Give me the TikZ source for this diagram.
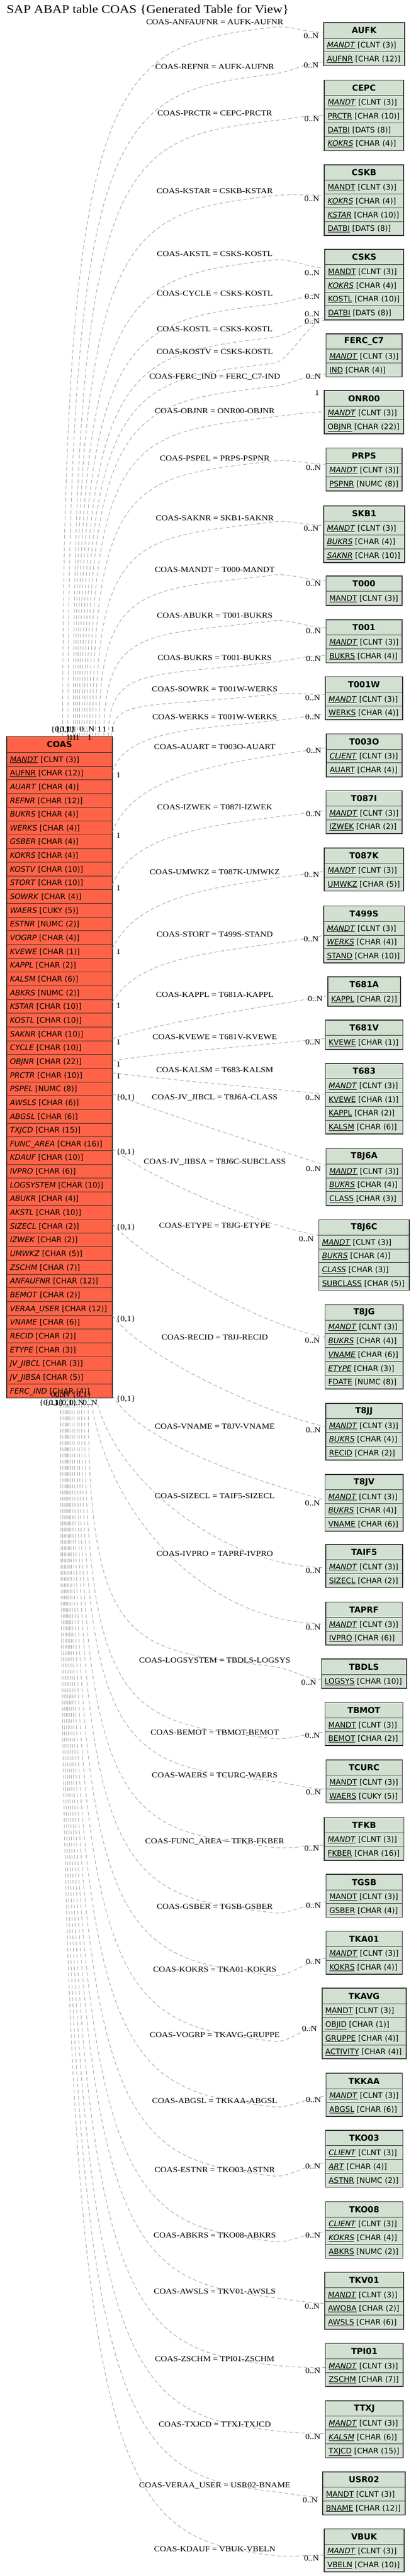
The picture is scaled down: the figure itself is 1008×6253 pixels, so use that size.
\documentclass[tikz,border=0pt]{standalone}
\usepackage{fontspec}
\setmainfont{DejaVu Sans}
\newfontfamily\lfont[FakeStretch=1.13]{Liberation Serif}
\usetikzlibrary{calc}
\definecolor{coasfill}{HTML}{FF6347}
\definecolor{tfill}{HTML}{D1E0D1}
\definecolor{relc}{HTML}{A0A0A0}
\definecolor{bord}{HTML}{303030}
\newcommand\hh{37}
\newcommand\rh{33.4}
\newcommand\curfill{tfill}
\newcommand\ki[1]{\underline{\textit{#1}}}
\newcommand\ku[1]{\underline{#1}}
\tikzset{
 hdrbox/.style={draw=bord, line width=1.1pt, fill=\curfill, minimum height=\hh pt, inner sep=0pt, font=\fontsize{20}{24}\selectfont\bfseries},
 rowbox/.style={draw=bord, line width=1.1pt, fill=\curfill, minimum height=\rh pt, inner sep=0pt},
 rowtxt/.style={inner sep=0pt, font=\fontsize{18.3}{22}\selectfont},
 rel/.style={draw=relc, line width=1.2pt, dash pattern=on 9pt off 6pt},
 lbl/.style={inner sep=0pt, font=\lfont\fontsize{18.6}{20}\selectfont},
}
\newcommand\mktable[6]{%
  \pgfmathsetmacro\tw{#4-#3}%
  \node[hdrbox, minimum width=\tw pt, anchor=north west] (#1) at (#3,-#5) {#2};%
  \foreach \r [count=\i] in {#6} {%
    \pgfmathsetmacro\ry{-#5-\hh-(\i-1)*\rh}%
    \node[rowbox, minimum width=\tw pt, anchor=north west] (#1-\i) at (#3,\ry) {};%
    \node[rowtxt, anchor=base west] at ($(#1-\i.west)+(8,-6.7)$) {\r};%
    \xdef\lastrow{\i}%
  }%
  \draw[draw=bord, line width=1.5pt] (#1.north west) rectangle (#1-\lastrow.south east);%
}
% top connectors: xs, P.y, target, E.y
\newcommand\relT[4]{%
  \coordinate (s) at (coas.north -| #1,0);%
  \coordinate (e) at (#3.west |- 0,-#4);%
  \pgfmathsetmacro\cay{-(1787.5-0.95*(1787.5-#2))}%
  \pgfmathsetmacro\bb{0.75*(663-#1)}%
  \pgfmathsetmacro\cbx{663-\bb}%
  \pgfmathsetmacro\cby{-(#2+0.12*\bb)}%
  \pgfmathsetmacro\ccy{-(#2-4.8)}%
  \draw[rel] (s) .. controls (#1,\cay) and (\cbx,\cby) .. (663,-#2) .. controls (703,\ccy) and ($(e)+(-40,0)$) .. (e);%
}
% bottom connectors: xs, P.y, target, E.y
\newcommand\relB[4]{%
  \coordinate (s) at (coas-47.south -| #1,0);%
  \coordinate (e) at (#3.west |- 0,-#4);%
  \pgfmathsetmacro\cay{-(3392+0.95*(#2-3392))}%
  \pgfmathsetmacro\bb{0.75*(663-#1)}%
  \pgfmathsetmacro\cbx{663-\bb}%
  \pgfmathsetmacro\cby{-(#2-0.12*\bb)}%
  \pgfmathsetmacro\ccy{-(#2+4.8)}%
  \draw[rel] (s) .. controls (#1,\cay) and (\cbx,\cby) .. (663,-#2) .. controls (703,\ccy) and ($(e)+(-40,0)$) .. (e);%
}
% right side connectors: ys, out angle, out dist, in angle, in dist, target, E.y
\newcommand\relR[7]{%
  \coordinate (s) at (coas.east |- 0,-#1);%
  \coordinate (e) at (#6.west |- 0,-#7);%
  \draw[rel] (s) .. controls ($(s)+(#2:#3)$) and ($(e)+(#4:#5)$) .. (e);%
}
\newcommand\elab[2]{\node[lbl, anchor=base] at (521,-#1-6) {#2};}
\newcommand\cardE[3]{\node[lbl, anchor=base east] at ($(#1.west |- 0,-#2)+(-12,-6)$) {#3};}
\newcommand\cardS[2]{\node[lbl, anchor=base west] at (282,-#1-14) {#2};}
\newcommand\clab[3]{\node[lbl, anchor=base west] at (#1,-#2-6) {#3};}
\begin{document}
\begin{tikzpicture}[x=1pt,y=1pt]
\useasboundingbox (0,0) rectangle (1008,-6253);
\fill[white] (0,0) rectangle (1008,-6253);
\node[anchor=base west, inner sep=0pt, font=\lfont\fontsize{28.3}{30}\selectfont] (title) at (16,-32.3) {SAP ABAP table COAS \{Generated Table for View\}};

% ---------- COAS ----------
\renewcommand\hh{38.3}\renewcommand\rh{33.33}\renewcommand\curfill{coasfill}
\mktable{coas}{COAS}{16}{271.5}{1787.5}{\ki{MANDT} [CLNT (3)],\ku{AUFNR} [CHAR (12)],\textit{AUART} [CHAR (4)],\textit{REFNR} [CHAR (12)],\textit{BUKRS} [CHAR (4)],\textit{WERKS} [CHAR (4)],\textit{GSBER} [CHAR (4)],\textit{KOKRS} [CHAR (4)],\textit{KOSTV} [CHAR (10)],\textit{STORT} [CHAR (10)],\textit{SOWRK} [CHAR (4)],\textit{WAERS} [CUKY (5)],\textit{ESTNR} [NUMC (2)],\textit{VOGRP} [CHAR (4)],\textit{KVEWE} [CHAR (1)],\textit{KAPPL} [CHAR (2)],\textit{KALSM} [CHAR (6)],\textit{ABKRS} [NUMC (2)],\textit{KSTAR} [CHAR (10)],\textit{KOSTL} [CHAR (10)],\textit{SAKNR} [CHAR (10)],\textit{CYCLE} [CHAR (10)],\textit{OBJNR} [CHAR (22)],\textit{PRCTR} [CHAR (10)],\textit{PSPEL} [NUMC (8)],\textit{AWSLS} [CHAR (6)],\textit{ABGSL} [CHAR (6)],\textit{TXJCD} [CHAR (15)],\textit{FUNC\_AREA} [CHAR (16)],\textit{KDAUF} [CHAR (10)],\textit{IVPRO} [CHAR (6)],\textit{LOGSYSTEM} [CHAR (10)],\textit{ABUKR} [CHAR (4)],\textit{AKSTL} [CHAR (10)],\textit{SIZECL} [CHAR (2)],\textit{IZWEK} [CHAR (2)],\textit{UMWKZ} [CHAR (5)],\textit{ZSCHM} [CHAR (7)],\textit{ANFAUFNR} [CHAR (12)],\textit{BEMOT} [CHAR (2)],\textit{VERAA\_USER} [CHAR (12)],\textit{VNAME} [CHAR (6)],\textit{RECID} [CHAR (2)],\textit{ETYPE} [CHAR (3)],\textit{JV\_JIBCL} [CHAR (3)],\textit{JV\_JIBSA} [CHAR (5)],\textit{FERC\_IND} [CHAR (4)]}
\renewcommand\hh{37}\renewcommand\rh{33.4}\renewcommand\curfill{tfill}

% ---------- right tables ----------
\mktable{aufk}{AUFK}{785}{981}{55}{\ki{MANDT} [CLNT (3)],\ku{AUFNR} [CHAR (12)]}
\mktable{cepc}{CEPC}{786.7}{978.3}{194}{\ki{MANDT} [CLNT (3)],\ku{PRCTR} [CHAR (10)],\ku{DATBI} [DATS (8)],\ki{KOKRS} [CHAR (4)]}
\mktable{cskb}{CSKB}{786.7}{978.3}{400}{\ku{MANDT} [CLNT (3)],\ki{KOKRS} [CHAR (4)],\ki{KSTAR} [CHAR (10)],\ku{DATBI} [DATS (8)]}
\mktable{csks}{CSKS}{787.7}{978.3}{605}{\ku{MANDT} [CLNT (3)],\ki{KOKRS} [CHAR (4)],\ku{KOSTL} [CHAR (10)],\ku{DATBI} [DATS (8)]}
\mktable{ferc}{FERC\_C7}{790.7}{974.3}{810}{\ki{MANDT} [CLNT (3)],\ku{IND} [CHAR (4)]}
\mktable{onr}{ONR00}{786.7}{978.3}{948}{\ki{MANDT} [CLNT (3)],\ku{OBJNR} [CHAR (22)]}
\mktable{prps}{PRPS}{790.7}{974.3}{1087}{\ki{MANDT} [CLNT (3)],\ku{PSPNR} [NUMC (8)]}
\mktable{skb}{SKB1}{785}{981}{1227.5}{\ki{MANDT} [CLNT (3)],\ki{BUKRS} [CHAR (4)],\ki{SAKNR} [CHAR (10)]}
\mktable{t000}{T000}{790.7}{974.3}{1398}{\ku{MANDT} [CLNT (3)]}
\mktable{t001}{T001}{790.7}{974.3}{1504}{\ki{MANDT} [CLNT (3)],\ku{BUKRS} [CHAR (4)]}
\mktable{t001w}{T001W}{789}{976}{1642.6}{\ki{MANDT} [CLNT (3)],\ku{WERKS} [CHAR (4)]}
\mktable{t003o}{T003O}{791.7}{974.3}{1781}{\ki{CLIENT} [CLNT (3)],\ku{AUART} [CHAR (4)]}
\mktable{t087i}{T087I}{790.7}{974.3}{1919}{\ki{MANDT} [CLNT (3)],\ku{IZWEK} [CHAR (2)]}
\mktable{t087k}{T087K}{786.7}{978.3}{2058}{\ki{MANDT} [CLNT (3)],\ku{UMWKZ} [CHAR (5)]}
\mktable{t499s}{T499S}{785}{980}{2199}{\ki{MANDT} [CLNT (3)],\ki{WERKS} [CHAR (4)],\ku{STAND} [CHAR (10)]}
\mktable{t681a}{T681A}{795}{971}{2371}{\ku{KAPPL} [CHAR (2)]}
\mktable{t681v}{T681V}{789.3}{976.7}{2476}{\ku{KVEWE} [CHAR (1)]}
\mktable{t683}{T683}{789.3}{976.7}{2581}{\ki{MANDT} [CLNT (3)],\ku{KVEWE} [CHAR (1)],\ku{KAPPL} [CHAR (2)],\ku{KALSM} [CHAR (6)]}
\mktable{t8j6a}{T8J6A}{790.7}{975}{2788}{\ki{MANDT} [CLNT (3)],\ki{BUKRS} [CHAR (4)],\ku{CLASS} [CHAR (3)]}
\mktable{t8j6c}{T8J6C}{773.3}{992.3}{2960.5}{\ki{MANDT} [CLNT (3)],\ki{BUKRS} [CHAR (4)],\ki{CLASS} [CHAR (3)],\ku{SUBCLASS} [CHAR (5)]}
\mktable{t8jg}{T8JG}{788.3}{977.3}{3166.7}{\ki{MANDT} [CLNT (3)],\ki{BUKRS} [CHAR (4)],\ki{VNAME} [CHAR (6)],\ki{ETYPE} [CHAR (3)],\ku{FDATE} [NUMC (8)]}
\mktable{t8jj}{T8JJ}{790}{975}{3406}{\ki{MANDT} [CLNT (3)],\ki{BUKRS} [CHAR (4)],\ku{RECID} [CHAR (2)]}
\mktable{t8jv}{T8JV}{788.3}{977.3}{3578.6}{\ki{MANDT} [CLNT (3)],\ki{BUKRS} [CHAR (4)],\ku{VNAME} [CHAR (6)]}
\mktable{taif5}{TAIF5}{790}{976}{3749}{\ki{MANDT} [CLNT (3)],\ku{SIZECL} [CHAR (2)]}
\mktable{taprf}{TAPRF}{790}{975}{3888.6}{\ki{MANDT} [CLNT (3)],\ku{IVPRO} [CHAR (6)]}
\mktable{tbdls}{TBDLS}{779.3}{985.7}{4027}{\ku{LOGSYS} [CHAR (10)]}
\mktable{tbmot}{TBMOT}{788.3}{976.7}{4132.4}{\ku{MANDT} [CLNT (3)],\ku{BEMOT} [CHAR (2)]}
\mktable{tcurc}{TCURC}{790.7}{975}{4271.7}{\ku{MANDT} [CLNT (3)],\ku{WAERS} [CUKY (5)]}
\mktable{tfkb}{TFKB}{786.7}{979}{4411}{\ki{MANDT} [CLNT (3)],\ku{FKBER} [CHAR (16)]}
\mktable{tgsb}{TGSB}{790.7}{975}{4549.6}{\ku{MANDT} [CLNT (3)],\ku{GSBER} [CHAR (4)]}
\mktable{tka01}{TKA01}{790.7}{975}{4687.5}{\ki{MANDT} [CLNT (3)],\ku{KOKRS} [CHAR (4)]}
\mktable{tkavg}{TKAVG}{781}{984.3}{4826}{\ku{MANDT} [CLNT (3)],\ku{OBJID} [CHAR (1)],\ku{GRUPPE} [CHAR (4)],\ku{ACTIVITY} [CHAR (4)]}
\mktable{tkkaa}{TKKAA}{790.7}{975}{5032.4}{\ki{MANDT} [CLNT (3)],\ku{ABGSL} [CHAR (6)]}
\mktable{tko03}{TKO03}{789.3}{976.7}{5171}{\ki{CLIENT} [CLNT (3)],\ki{ART} [CHAR (4)],\ku{ASTNR} [NUMC (2)]}
\mktable{tko08}{TKO08}{789.3}{976.7}{5344}{\ki{CLIENT} [CLNT (3)],\ki{KOKRS} [CHAR (4)],\ku{ABKRS} [NUMC (2)]}
\mktable{tkv01}{TKV01}{787.7}{978.3}{5515.5}{\ki{MANDT} [CLNT (3)],\ku{AWOBA} [CHAR (2)],\ku{AWSLS} [CHAR (6)]}
\mktable{tpi01}{TPI01}{789.3}{977.3}{5688}{\ki{MANDT} [CLNT (3)],\ku{ZSCHM} [CHAR (7)]}
\mktable{ttxj}{TTXJ}{789.3}{977.3}{5827.6}{\ki{MANDT} [CLNT (3)],\ki{KALSM} [CHAR (6)],\ku{TXJCD} [CHAR (15)]}
\mktable{usr02}{USR02}{782.7}{982.3}{6000}{\ku{MANDT} [CLNT (3)],\ku{BNAME} [CHAR (12)]}
\mktable{vbuk}{VBUK}{786}{979.3}{6138}{\ki{MANDT} [CLNT (3)],\ku{VBELN} [CHAR (10)]}

% ---------- connectors from COAS top ----------
\relT{152}{66}{aufk}{79}
\relT{165}{180}{aufk}{151}
\relT{178}{293}{cepc}{280}
\relT{183}{475}{cskb}{474}
\relT{188}{631}{csks}{650}
\relT{193}{738}{csks}{714}
\relT{199}{819}{csks}{772}
\relT{205}{882}{csks}{778}
\relT{211}{938}{ferc}{908}
\relT{218}{1012}{onr}{1000}
\relT{225}{1119}{prps}{1127}
\relT{232}{1267}{skb}{1275}
\relT{240}{1396}{t000}{1409}
\relT{252}{1507}{t001}{1524}
\relT{263}{1607}{t001}{1591}
\relT{271}{1685}{t001w}{1686}
% ---------- connectors from COAS right side ----------
\relR{1874}{72}{130}{190}{250}{t001w}{1732}
\relR{2020}{70}{150}{188}{250}{t003o}{1815}
\relR{2148}{68}{150}{188}{250}{t087i}{1967}
\relR{2303}{65}{150}{188}{250}{t087k}{2115}
\relR{2433}{60}{140}{190}{250}{t499s}{2271}
\relR{2522}{22}{100}{190}{100}{t681a}{2417}
\relR{2575}{10}{100}{186}{100}{t681v}{2521}
\relR{2604}{-8}{100}{174}{100}{t683}{2656}
\relR{2655}{-22}{100}{162}{100}{t8j6a}{2829}
\relR{2788}{-38}{120}{170}{150}{t8j6c}{2999}
\relR{2971}{-48}{120}{170}{150}{t8jg}{3246}
\relR{3193}{-55}{120}{168}{150}{t8jj}{3463}
\relR{3387}{-60}{130}{165}{180}{t8jv}{3641}
% ---------- connectors from COAS bottom ----------
\coordinate (s1) at (coas-47.south -| 233,0);
\coordinate (e1) at (taif5.west |- 0,-3805);
\draw[rel] (s1) .. controls ($(s1)+(-78:200)$) and ($(e1)+(-250,0)$) .. (e1);
\coordinate (s2) at (coas-47.south -| 220,0);
\coordinate (e2) at (taprf.west |- 0,-3942);
\draw[rel] (s2) .. controls ($(s2)+(-82:300)$) and ($(e2)+(-280,0)$) .. (e2);
\relB{214}{4045}{tbdls}{4076}
\relB{205}{4220}{tbmot}{4205}
\relB{198}{4324}{tcurc}{4343}
\relB{192}{4484}{tfkb}{4479}
\relB{187}{4643}{tgsb}{4617}
\relB{180}{4795}{tka01}{4754}
\relB{175}{4955}{tkavg}{4917}
\relB{170}{5114}{tkkaa}{5089}
\relB{167}{5282}{tko03}{5250}
\relB{164}{5441}{tko08}{5418}
\relB{161}{5577}{tkv01}{5591}
\relB{158}{5741}{tpi01}{5747}
\relB{155}{5900}{ttxj}{5907}
\relB{151}{6048}{usr02}{6061}
\relB{147}{6203}{vbuk}{6202}

% ---------- connector labels ----------
\elab{53}{COAS-ANFAUFNR = AUFK-AUFNR}
\elab{162}{COAS-REFNR = AUFK-AUFNR}
\elab{275}{COAS-PRCTR = CEPC-PRCTR}
\elab{464}{COAS-KSTAR = CSKB-KSTAR}
\elab{616}{COAS-AKSTL = CSKS-KOSTL}
\elab{712}{COAS-CYCLE = CSKS-KOSTL}
\elab{799}{COAS-KOSTL = CSKS-KOSTL}
\elab{854}{COAS-KOSTV = CSKS-KOSTL}
\elab{914}{COAS-FERC\_IND = FERC\_C7-IND}
\elab{998}{COAS-OBJNR = ONR00-OBJNR}
\elab{1113}{COAS-PSPEL = PRPS-PSPNR}
\elab{1258}{COAS-SAKNR = SKB1-SAKNR}
\elab{1383}{COAS-MANDT = T000-MANDT}
\elab{1494}{COAS-ABUKR = T001-BUKRS}
\elab{1597}{COAS-BUKRS = T001-BUKRS}
\elab{1673}{COAS-SOWRK = T001W-WERKS}
\elab{1740}{COAS-WERKS = T001W-WERKS}
\elab{1813}{COAS-AUART = T003O-AUART}
\elab{1959}{COAS-IZWEK = T087I-IZWEK}
\elab{2117}{COAS-UMWKZ = T087K-UMWKZ}
\elab{2268}{COAS-STORT = T499S-STAND}
\elab{2414}{COAS-KAPPL = T681A-KAPPL}
\elab{2517}{COAS-KVEWE = T681V-KVEWE}
\elab{2597}{COAS-KALSM = T683-KALSM}
\elab{2663}{COAS-JV\_JIBCL = T8J6A-CLASS}
\elab{2820}{COAS-JV\_JIBSA = T8J6C-SUBCLASS}
\elab{2975}{COAS-ETYPE = T8JG-ETYPE}
\elab{3246}{COAS-RECID = T8JJ-RECID}
\elab{3462}{COAS-VNAME = T8JV-VNAME}
\elab{3631}{COAS-SIZECL = TAIF5-SIZECL}
\elab{3771}{COAS-IVPRO = TAPRF-IVPRO}
\elab{4030}{COAS-LOGSYSTEM = TBDLS-LOGSYS}
\elab{4205}{COAS-BEMOT = TBMOT-BEMOT}
\elab{4309}{COAS-WAERS = TCURC-WAERS}
\elab{4469}{COAS-FUNC\_AREA = TFKB-FKBER}
\elab{4628}{COAS-GSBER = TGSB-GSBER}
\elab{4780}{COAS-KOKRS = TKA01-KOKRS}
\elab{4940}{COAS-VOGRP = TKAVG-GRUPPE}
\elab{5099}{COAS-ABGSL = TKKAA-ABGSL}
\elab{5267}{COAS-ESTNR = TKO03-ASTNR}
\elab{5426}{COAS-ABKRS = TKO08-ABKRS}
\elab{5562}{COAS-AWSLS = TKV01-AWSLS}
\elab{5726}{COAS-ZSCHM = TPI01-ZSCHM}
\elab{5885}{COAS-TXJCD = TTXJ-TXJCD}
\elab{6033}{COAS-VERAA\_USER = USR02-BNAME}
\elab{6188}{COAS-KDAUF = VBUK-VBELN}

% ---------- cardinalities at the tables (label centre y) ----------
\cardE{aufk}{87}{0..N}
\cardE{aufk}{159}{0..N}
\cardE{cepc}{288}{0..N}
\cardE{cskb}{482}{0..N}
\cardE{csks}{663}{0..N}
\cardE{csks}{720}{0..N}
\cardE{csks}{763}{0..N}
\cardE{csks}{780}{0..N}
\cardE{ferc}{914}{0..N}
\cardE{onr}{954}{1}
\cardE{prps}{1135}{0..N}
\cardE{skb}{1283}{0..N}
\cardE{t000}{1417}{0..N}
\cardE{t001}{1532}{0..N}
\cardE{t001}{1599}{0..N}
\cardE{t001w}{1694}{0..N}
\cardE{t001w}{1740}{0..N}
\cardE{t003o}{1822}{0..N}
\cardE{t087i}{1975}{0..N}
\cardE{t087k}{2123}{0..N}
\cardE{t499s}{2279}{0..N}
\cardE{t681a}{2425}{0..N}
\cardE{t681v}{2529}{0..N}
\cardE{t683}{2664}{0..N}
\cardE{t8j6a}{2837}{0..N}
\cardE{t8j6c}{3007}{0..N}
\cardE{t8jg}{3254}{0..N}
\cardE{t8jj}{3471}{0..N}
\cardE{t8jv}{3649}{0..N}
\cardE{taif5}{3813}{0..N}
\cardE{taprf}{3950}{0..N}
\cardE{tbdls}{4084}{0..N}
\cardE{tbmot}{4213}{0..N}
\cardE{tcurc}{4351}{0..N}
\cardE{tfkb}{4487}{0..N}
\cardE{tgsb}{4625}{0..N}
\cardE{tka01}{4762}{0..N}
\cardE{tkavg}{4925}{0..N}
\cardE{tkkaa}{5097}{0..N}
\cardE{tko03}{5258}{0..N}
\cardE{tko08}{5426}{0..N}
\cardE{tkv01}{5599}{0..N}
\cardE{tpi01}{5755}{0..N}
\cardE{ttxj}{5915}{0..N}
\cardE{usr02}{6069}{0..N}
\cardE{vbuk}{6210}{0..N}

% ---------- cardinalities at COAS right side ----------
\cardS{1874}{1}
\cardS{2020}{1}
\cardS{2148}{1}
\cardS{2303}{1}
\cardS{2433}{1}
\cardS{2522}{1}
\cardS{2575}{1}
\cardS{2604}{1}
\cardS{2655}{\{0,1\}}
\cardS{2788}{\{0,1\}}
\cardS{2971}{\{0,1\}}
\cardS{3193}{\{0,1\}}
\cardS{3387}{\{0,1\}}

% ---------- cardinalities crowded at COAS top ----------
\clab{123}{1770}{\{0,1\}}
\clab{135}{1770}{\{0,1\}}
\clab{158}{1770}{1}
\clab{166}{1770}{1}
\clab{174}{1770}{1}
\clab{193}{1770}{0..N}
\clab{236}{1770}{1}
\clab{248}{1770}{1}
\clab{268}{1770}{1}
\clab{160}{1790}{1}
\clab{167}{1790}{1}
\clab{175}{1790}{1}
\clab{183}{1790}{1}
\clab{212}{1790}{1}
% ---------- cardinalities crowded at COAS bottom ----------
\clab{123}{3385}{0..N}
\clab{133}{3385}{0..N}
\clab{175}{3385}{\{0,1\}}
\clab{95}{3405}{\{0,1\}}
\clab{108}{3405}{\{0,1\}}
\clab{132}{3405}{1}
\clab{140}{3405}{\{0,1\}}
\clab{168}{3405}{0..N}
\clab{200}{3405}{0..N}
\end{tikzpicture}
\end{document}
